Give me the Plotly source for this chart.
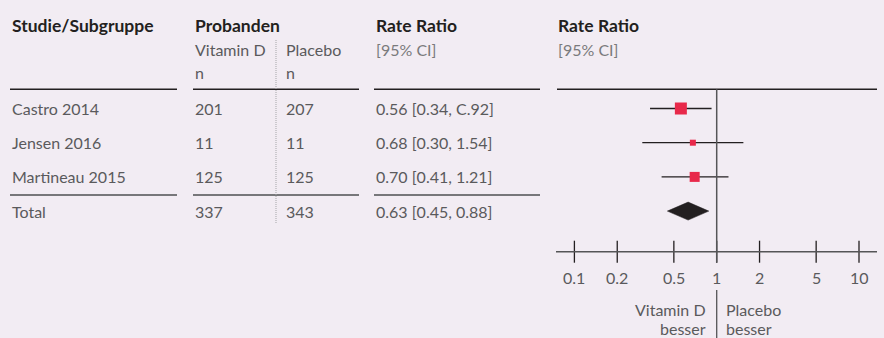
import math
import plotly.graph_objects as go

# ---- data ----
studies = ["Castro 2014", "Jensen 2016", "Martineau 2015"]
n_vitd = [201, 11, 125]
n_placebo = [207, 11, 125]
rr = [0.56, 0.68, 0.70]
ci_lo = [0.34, 0.30, 0.41]
ci_hi = [0.92, 1.54, 1.21]
ci_text = ["0.56 [0.34, C.92]", "0.68 [0.30, 1.54]", "0.70 [0.41, 1.21]"]
total_label = "Total"
total_vitd = 337
total_placebo = 343
total_rr = 0.63
total_lo = 0.45
total_hi = 0.88
total_text = "0.63 [0.45, 0.88]"
tick_vals = [0.1, 0.2, 0.5, 1, 2, 5, 10]
tick_text = ["0.1", "0.2", "0.5", "1", "2", "5", "10"]

# ---- style ----
W, H = 884, 338
BG = "#f2ecf3"
DARK = "#231f20"
TXT = "#5a5a5c"
RED = "#e8294a"
FONT = "Lato"
FS = 16
FS_BOLD = 17.5
marker_sizes = [12, 6, 10]

row0, rowstep = 108.5, 34.2
row_y = [row0 + rowstep * i for i in range(len(studies))]
total_y = row0 + rowstep * len(studies)
axis_y = 251.7

def px(x):
    return x / W

fig = go.Figure()

for i in range(len(studies)):
    fig.add_trace(go.Scatter(x=[ci_lo[i], ci_hi[i]], y=[row_y[i], row_y[i]], mode="lines",
                             line=dict(color=DARK, width=1.3), hoverinfo="skip", showlegend=False))
fig.add_trace(go.Scatter(x=rr, y=row_y, mode="markers",
                         marker=dict(symbol="square", size=marker_sizes, color=RED, opacity=1,
                                     line=dict(width=0)),
                         showlegend=False))
fig.add_trace(go.Scatter(x=[total_lo, total_rr, total_hi, total_rr, total_lo],
                         y=[total_y, total_y - 9, total_y, total_y + 9, total_y],
                         mode="lines", fill="toself", fillcolor=DARK, line=dict(color=DARK, width=0.5),
                         showlegend=False))
tx, ty = [], []
for v in tick_vals:
    tx += [v, v, None]
    ty += [axis_y - 11, axis_y + 11, None]
fig.add_trace(go.Scatter(x=tx, y=ty, mode="lines", line=dict(color=DARK, width=1.3),
                         hoverinfo="skip", showlegend=False))

shapes = []
for x0, x1 in [(10, 177), (193, 359), (374, 540), (557, 877)]:
    shapes.append(dict(type="line", xref="paper", yref="y", x0=px(x0), x1=px(x1), y0=89.3, y1=89.3,
                       line=dict(color=DARK, width=1.5)))
for x0, x1 in [(10, 177), (193, 359), (374, 540)]:
    shapes.append(dict(type="line", xref="paper", yref="y", x0=px(x0), x1=px(x1), y0=195, y1=195,
                       line=dict(color="#77777a", width=1.8)))
shapes.append(dict(type="line", xref="paper", yref="y", x0=px(276), x1=px(276), y0=40, y1=223,
                   line=dict(color="#a5a5a8", width=1, dash="1px,1px")))
shapes.append(dict(type="line", xref="x", yref="y", x0=1, x1=1, y0=89.3, y1=axis_y + 11,
                   line=dict(color="#555557", width=1.5)))
shapes.append(dict(type="line", xref="x", yref="y", x0=1, x1=1, y0=290, y1=338,
                   line=dict(color="#555557", width=1.3)))
shapes.append(dict(type="line", xref="paper", yref="y", x0=px(556), x1=px(877), y0=axis_y, y1=axis_y,
                   line=dict(color="#555557", width=1.5)))

ann = []
def txt(x, y, s, bold=False, color=TXT, xanchor="left"):
    ann.append(dict(x=px(x), y=y, xref="paper", yref="y", text=s, showarrow=False,
                    xanchor=xanchor, yanchor="middle",
                    font=dict(family=FONT, size=FS_BOLD if bold else FS,
                              color=DARK if bold else color,
                              weight=700 if bold else 400)))

txt(10, 25.5, "Studie/Subgruppe", bold=True)
txt(193, 25.5, "Probanden", bold=True)
txt(374, 25.5, "Rate Ratio", bold=True)
txt(556, 25.5, "Rate Ratio", bold=True)
txt(193, 49, "Vitamin D")
txt(284, 49, "Placebo")
txt(374, 49, "[95% CI]", color="#7a7a7c")
txt(556, 49, "[95% CI]", color="#7a7a7c")
txt(193, 72, "n")
txt(284, 72, "n")
for i, s in enumerate(studies):
    txt(10, row_y[i], s)
    txt(193, row_y[i], str(n_vitd[i]))
    txt(284, row_y[i], str(n_placebo[i]))
    txt(374, row_y[i], ci_text[i])
txt(10, total_y, total_label)
txt(193, total_y, str(total_vitd))
txt(284, total_y, str(total_placebo))
txt(374, total_y, total_text)
txt(708.3, 309.5, "Vitamin D", xanchor="right")
txt(708.3, 328.5, "besser", xanchor="right")
txt(724.3, 309.5, "Placebo")
txt(724.3, 328.5, "besser")
for v, t in zip(tick_vals, tick_text):
    ann.append(dict(x=math.log10(v), y=277.7, xref="x", yref="y", text=t, showarrow=False,
                    xanchor="center", yanchor="middle",
                    font=dict(family=FONT, size=FS, color=TXT, weight=400)))

fig.update_layout(
    width=W, height=H, margin=dict(l=0, r=0, t=0, b=0),
    paper_bgcolor=BG, plot_bgcolor=BG,
    shapes=shapes, annotations=ann,
    xaxis=dict(type="log", domain=[px(556), px(877)], range=[-1.1293, 1.1265],
               showgrid=False, zeroline=False, showline=False, showticklabels=False, ticks=""),
    yaxis=dict(range=[H, 0], domain=[0, 1], showgrid=False, zeroline=False, showline=False,
               showticklabels=False, ticks=""),
    hovermode=False,
)

fig.write_html("out.html", config={"displayModeBar": False},
               post_script="document.body.style.margin='0';document.body.style.overflow='hidden';"
                           "document.documentElement.style.background='" + BG + "';")
